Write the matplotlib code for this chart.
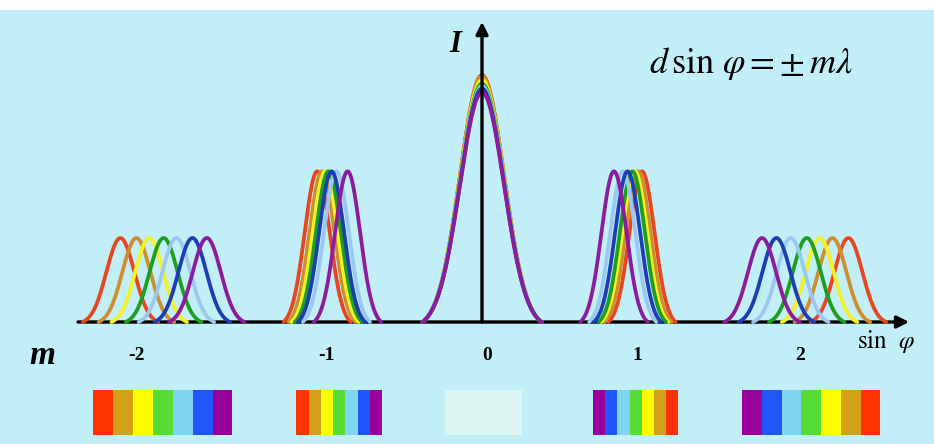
import numpy as np
import matplotlib
matplotlib.use("Agg")
import matplotlib.pyplot as plt
from matplotlib.patches import Rectangle

plt.rcParams["mathtext.fontset"] = "stix"
plt.rcParams["font.family"] = ["Liberation Serif", "DejaVu Serif"]

# ---- data -------------------------------------------------------------
colour_names = ["red", "orange", "yellow", "green", "lightblue", "blue", "violet"]
line_colours = ["#E8461E", "#CD8F2D", "#F2F226", "#1E9E1E", "#9CC8F0", "#1B3EB5", "#8C1C9C"]
band_colours = ["#FF3300", "#D4A017", "#FFFF00", "#55DD33", "#7FD4EE", "#2255FF", "#990099"]

orders = [-2, -1, 0, 1, 2]
order_labels = ["-2", "-1", "0", "1", "2"]
order_label_x = [-2.16, -0.97, 0.03, 0.97, 1.99]

# principal-maximum positions (sin phi) for each colour, per order
peak_pos = {
    -2: [-2.26, -2.16, -2.08, -1.99, -1.91, -1.81, -1.72],
    -1: [-1.03, -1.00, -0.98, -0.96, -0.91, -0.94, -0.84],
    0:  [0.0, 0.0, 0.0, 0.0, 0.0, 0.0, 0.0],
    1:  [1.00, 0.975, 0.955, 0.94, 0.88, 0.91, 0.825],
    2:  [2.29, 2.19, 2.11, 2.03, 1.93, 1.84, 1.75],
}
# relative peak intensity for each colour, per order
peak_height = {
    -2: [0.34] * 7,
    -1: [0.61] * 7,
    0:  [1.00, 0.995, 0.98, 0.965, 0.955, 0.945, 0.93],
    1:  [0.61] * 7,
    2:  [0.34] * 7,
}
peak_sigma = {-2: 0.0875, -1: 0.078, 0: 0.1375, 1: 0.078, 2: 0.0875}

# spectrum strip under each order: (left edge, right edge) in sin phi
strip_span = {-2: (-2.43, -1.56), -1: (-1.16, -0.625), 0: (-0.23, 0.25),
              1: (0.695, 1.225), 2: (1.625, 2.49)}
strip_order = {-2: colour_names, -1: colour_names, 0: None,
               1: colour_names[::-1], 2: colour_names[::-1]}
zero_strip_colour = "#DDF5F3"

# ---- figure -----------------------------------------------------------
W, H = 934, 444
fig = plt.figure(figsize=(W / 100, H / 100), dpi=100)
fig.patches.append(Rectangle((0, 0), 1, 434 / H, transform=fig.transFigure,
                             facecolor="#C2EEF8", edgecolor="none", zorder=-10))
ax = fig.add_axes([0, 0, 1, 1])
ax.set_facecolor("none")
ax.set_xlim(-482 / 160, (W - 482) / 160)
ax.set_ylim(-122 / 247, (H - 122) / 247)
ax.axis("off")

# horizontal axis (under the curves)
ax.annotate("", xy=(2.67, 0), xytext=(-2.525, 0),
            arrowprops=dict(arrowstyle="-|>", lw=2.4, color="black",
                            mutation_scale=18, shrinkA=0, shrinkB=0), zorder=1)

# intensity curves
cut = 2.7
for m in orders:
    s = peak_sigma[m]
    e0 = np.exp(-cut ** 2 / 2)
    u = np.linspace(-cut, cut, 300)
    g = (np.exp(-u ** 2 / 2) - e0) / (1 - e0)
    for c, x0, h in zip(line_colours, peak_pos[m], peak_height[m]):
        ax.plot(x0 + u * s, h * g, color=c, lw=2.7, solid_capstyle="round", zorder=3)

# vertical axis (over the curves)
ax.annotate("", xy=(0, 1.215), xytext=(0, 0),
            arrowprops=dict(arrowstyle="-|>", lw=2.4, color="black",
                            mutation_scale=18, shrinkA=0, shrinkB=0), zorder=5)

# spectrum strips
y0, y1 = -0.4575, -0.275
colour_lookup = dict(zip(colour_names, band_colours))
for m in orders:
    a, b = strip_span[m]
    seq = strip_order[m]
    if seq is None:
        ax.add_patch(Rectangle((a, y0), b - a, y1 - y0, facecolor=zero_strip_colour,
                               edgecolor="none", zorder=2))
        continue
    w = (b - a) / len(seq)
    for i, name in enumerate(seq):
        ax.add_patch(Rectangle((a + i * w, y0), w, y1 - y0,
                               facecolor=colour_lookup[name], edgecolor="none", zorder=2))

# labels
for lx, lab in zip(order_label_x, order_labels):
    ax.text(lx, -0.135, lab, ha="center", va="center", fontsize=14, fontweight="bold")
ax.text((42 - 482) / 160, -0.135, "m", ha="center", va="center", fontsize=24,
        fontweight="bold", fontstyle="italic")
ax.text((886 - 482) / 160, -0.08, r"$\mathrm{sin}\ \ \varphi$", ha="center",
        va="center", fontsize=18)
ax.text((455 - 482) / 160, (322 - 45) / 247, "I", ha="center", va="center",
        fontsize=22, fontweight="bold", fontstyle="italic")
ax.text((751 - 482) / 160, (322 - 63) / 247, r"$d\,\sin\,\varphi = \pm\, m\lambda$",
        ha="center", va="center", fontsize=26)

fig.savefig("out.png", dpi=100)
